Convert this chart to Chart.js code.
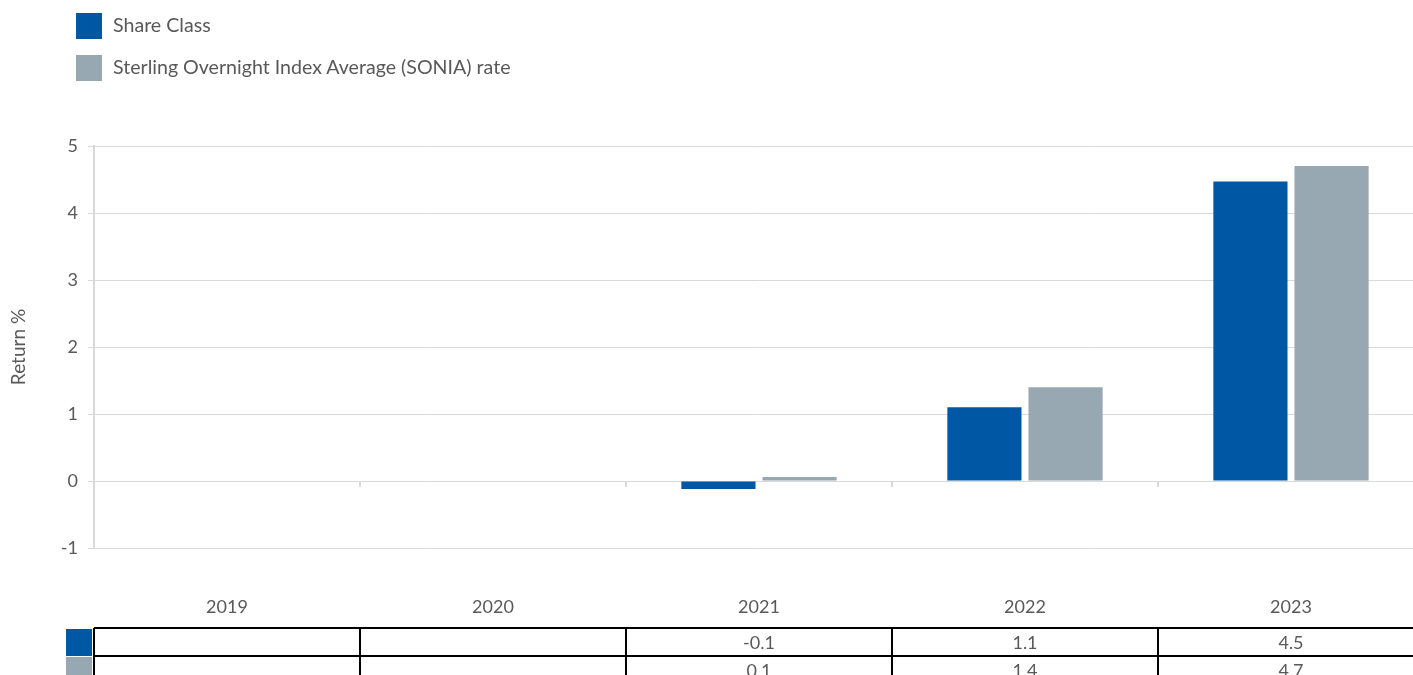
<!DOCTYPE html>
<html>
<head>
<meta charset="utf-8">
<script src="https://cdn.jsdelivr.net/npm/chart.js@4/dist/chart.umd.min.js"></script>
<style>
  html, body { margin: 0; padding: 0; background: #fff; overflow: hidden; }
  #wrap { position: relative; width: 1413px; height: 675px; overflow: hidden; }
  #chart { position: absolute; left: 0; top: 0; }
  .legend-item { position: absolute; left: 76px; height: 26px; font: 19.6px Lato, sans-serif; color: #595959; }
  .legend-item span.box { position: absolute; left: 0; top: 0; width: 26px; height: 26px; }
  .legend-item span.txt { position: absolute; left: 37px; top: 0px; white-space: nowrap; }
</style>
</head>
<body>
<div id="wrap">
  <canvas id="chart" width="1424" height="675"></canvas>
  <div id="legend"></div>
</div>
<script>
const categories = ['2019', '2020', '2021', '2022', '2023'];
const shareClass = [null, null, -0.12, 1.1, 4.47];
const sonia = [null, null, 0.06, 1.4, 4.7];
const shareClassTable = ['', '', '-0.1', '1.1', '4.5'];
const soniaTable = ['', '', '0.1', '1.4', '4.7'];
const seriesNames = ['Share Class', 'Sterling Overnight Index Average (SONIA) rate'];
const seriesColors = ['#0058a4', '#98a8b3'];

const textColor = '#595959';
const gridColor = '#d9d9d9';

function buildLegend() {
    const legend = document.getElementById('legend');
    seriesNames.forEach((name, i) => {
        const item = document.createElement('div');
        item.className = 'legend-item';
        item.style.top = (13 + i * 42) + 'px';
        item.innerHTML = `<span class="box" style="background:${seriesColors[i]}"></span><span class="txt">${name}</span>`;
        legend.appendChild(item);
    });
}

const extrasPlugin = {
    id: 'extras',
    afterDraw(chart) {
        const ctx = chart.ctx;
        const x = chart.scales.x;
        const y = chart.scales.y;
        const n = categories.length;
        const step = x.width / n;
        const y0 = y.getPixelForValue(0);

        // category tick marks on the zero line
        ctx.save();
        ctx.strokeStyle = gridColor;
        ctx.lineWidth = 2;
        for (let i = 1; i <= n; i++) {
            const px = Math.round(x.left + i * step);
            ctx.beginPath();
            ctx.moveTo(px, y0);
            ctx.lineTo(px, y0 + 6);
            ctx.stroke();
        }

        // data table
        const rows = [shareClassTable, soniaTable];
        const top = 628;
        const rowH = 28;
        ctx.strokeStyle = '#000';
        ctx.lineWidth = 2;
        for (let r = 0; r <= rows.length; r++) {
            ctx.beginPath();
            ctx.moveTo(x.left, top + r * rowH);
            ctx.lineTo(chart.width, top + r * rowH);
            ctx.stroke();
        }
        for (let i = 0; i <= n; i++) {
            const px = Math.round(x.left + i * step);
            ctx.beginPath();
            ctx.moveTo(px, top);
            ctx.lineTo(px, top + rows.length * rowH);
            ctx.stroke();
        }
        ctx.font = '18px Lato, sans-serif';
        ctx.fillStyle = textColor;
        ctx.textAlign = 'center';
        ctx.textBaseline = 'middle';
        rows.forEach((row, r) => {
            ctx.fillStyle = seriesColors[r];
            ctx.fillRect(66, top + r * rowH + 1, 26, rowH - 1);
            ctx.fillStyle = textColor;
            row.forEach((label, i) => {
                if (label) ctx.fillText(label, x.getPixelForValue(i), top + r * rowH + rowH / 2 + 1);
            });
        });
        ctx.restore();
    }
};

buildLegend();

new Chart(document.getElementById('chart').getContext('2d'), {
    type: 'bar',
    data: {
        labels: categories,
        datasets: [
            { label: seriesNames[0], data: shareClass, backgroundColor: seriesColors[0], borderWidth: 0 },
            { label: seriesNames[1], data: sonia, backgroundColor: seriesColors[1], borderWidth: 0 }
        ]
    },
    options: {
        responsive: false,
        devicePixelRatio: 1,
        animation: false,
        categoryPercentage: 0.61,
        barPercentage: 0.914,
        layout: { padding: { top: 146, left: 0, right: 0, bottom: 0 } },
        plugins: {
            legend: { display: false },
            tooltip: { enabled: false }
        },
        scales: {
            x: {
                grid: { display: false, drawTicks: false },
                border: { display: false },
                ticks: { color: textColor, font: { family: 'Lato', size: 18 }, padding: 48, maxRotation: 0 },
                afterFit(scale) { scale.height = 127; }
            },
            y: {
                min: -1,
                max: 5,
                ticks: { stepSize: 1, color: textColor, font: { family: 'Lato', size: 18 }, padding: 10 },
                grid: { color: gridColor, lineWidth: 1, tickLength: 6 },
                border: { display: true, color: gridColor, width: 2 },
                title: { display: true, text: 'Return %', color: textColor, font: { family: 'Lato', size: 19 }, padding: { top: 7, bottom: 0 } },
                afterFit(scale) { scale.width = 94; }
            }
        }
    },
    plugins: [extrasPlugin]
});
</script>
</body>
</html>
